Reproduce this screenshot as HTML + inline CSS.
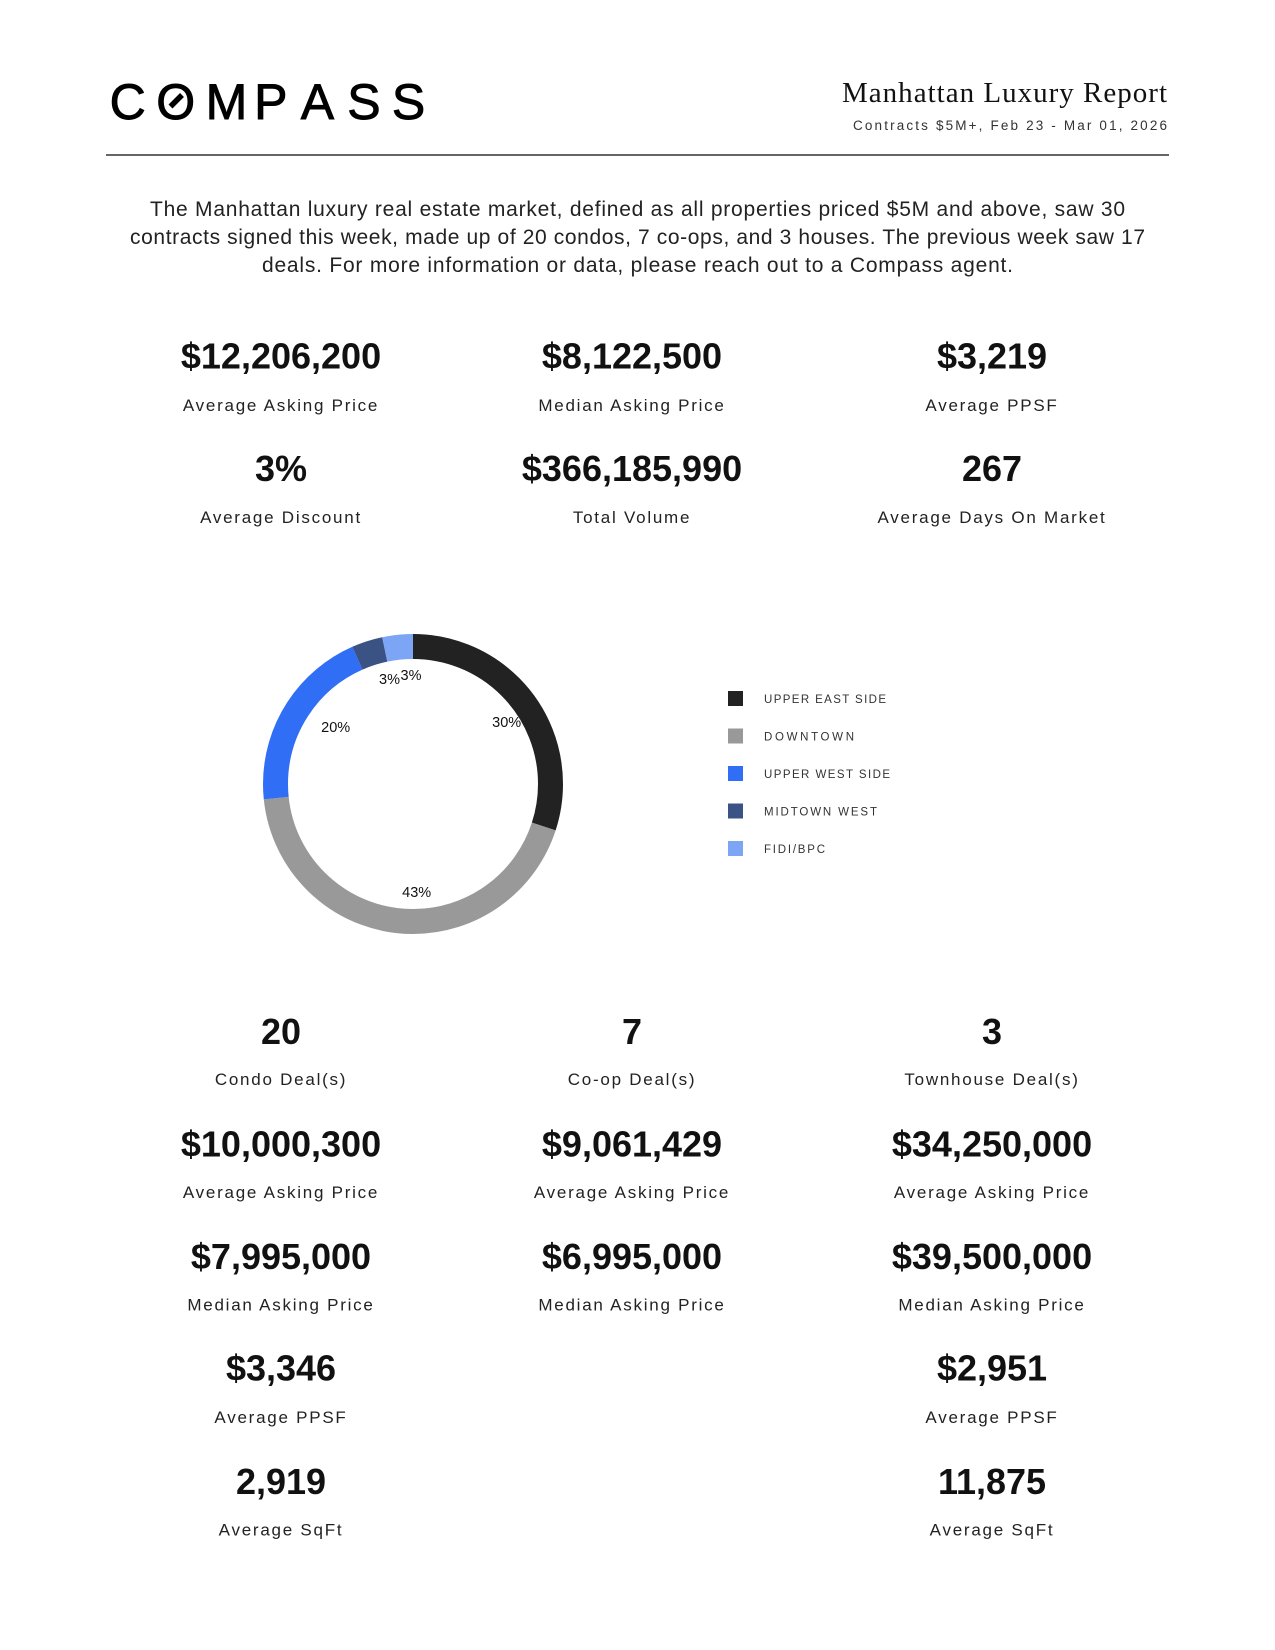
<!DOCTYPE html>
<html>
<head>
<meta charset="utf-8">
<style>
  html, body { margin:0; padding:0; background:#ffffff; }
  body { width:1275px; height:1650px; overflow:hidden; }
  svg { display:block; }
  .num { font-family:"Liberation Sans", sans-serif; font-weight:bold; font-size:36px; fill:#111; text-anchor:middle; }
  .lbl { font-family:"Liberation Sans", sans-serif; font-size:17px; fill:#222; text-anchor:middle; letter-spacing:1.75px; }
  .intro { font-family:"Liberation Sans", sans-serif; font-size:21px; fill:#222; text-anchor:middle; }
  .leg { font-family:"Liberation Sans", sans-serif; font-size:11.5px; fill:#333; }
  .pct { font-family:"Liberation Sans", sans-serif; font-size:14.5px; fill:#111; text-anchor:middle; }
</style>
</head>
<body>
<svg width="1275" height="1650" viewBox="0 0 1275 1650" xmlns="http://www.w3.org/2000/svg">
  <rect x="0" y="0" width="1275" height="1650" fill="#ffffff"/>

  <!-- Logo -->
  <text x="109.6 156.3 205.6 254.1 300.8 347.2 391.9" y="119" font-family="Liberation Sans, sans-serif" font-size="50" fill="#000" stroke="#000" stroke-width="0.9">COMPASS</text>
  <line x1="170.5" y1="106.5" x2="182" y2="95" stroke="#000" stroke-width="5.5"/>

  <!-- Title -->
  <text x="842" y="102" font-family="Liberation Serif, serif" font-size="29" fill="#111" textLength="325" lengthAdjust="spacing">Manhattan Luxury Report</text>
  <text x="853" y="130" font-family="Liberation Sans, sans-serif" font-size="13.5" fill="#333" textLength="314" lengthAdjust="spacing">Contracts $5M+, Feb 23 - Mar 01, 2026</text>

  <line x1="106" y1="155" x2="1169" y2="155" stroke="#333" stroke-width="1.5"/>

  <!-- Intro -->
  <text class="intro" x="637.5" y="216" textLength="975" lengthAdjust="spacing">The Manhattan luxury real estate market, defined as all properties priced $5M and above, saw 30</text>
  <text class="intro" x="637.5" y="244" textLength="1015" lengthAdjust="spacing">contracts signed this week, made up of 20 condos, 7 co-ops, and 3 houses. The previous week saw 17</text>
  <text class="intro" x="637.5" y="272" textLength="751" lengthAdjust="spacing">deals. For more information or data, please reach out to a Compass agent.</text>

  <!-- Top stats row 1 -->
  <text class="num" x="281" y="368.5">$12,206,200</text>
  <text class="lbl" x="281" y="411">Average Asking Price</text>
  <text class="num" x="632" y="368.5">$8,122,500</text>
  <text class="lbl" x="632" y="411">Median Asking Price</text>
  <text class="num" x="992" y="368.5">$3,219</text>
  <text class="lbl" x="992" y="411">Average PPSF</text>

  <!-- Top stats row 2 -->
  <text class="num" x="281" y="481">3%</text>
  <text class="lbl" x="281" y="523">Average Discount</text>
  <text class="num" x="632" y="481">$366,185,990</text>
  <text class="lbl" x="632" y="523">Total Volume</text>
  <text class="num" x="992" y="481">267</text>
  <text class="lbl" x="992" y="523">Average Days On Market</text>

  <!-- Donut -->
  <g transform="rotate(-90 413 784)" fill="none" stroke-width="25">
    <circle cx="413" cy="784" r="137.5" stroke="#222222" stroke-dasharray="259.18 863.94" stroke-dashoffset="0"/>
    <circle cx="413" cy="784" r="137.5" stroke="#999999" stroke-dasharray="374.37 863.94" stroke-dashoffset="-259.18"/>
    <circle cx="413" cy="784" r="137.5" stroke="#2F6EF5" stroke-dasharray="172.79 863.94" stroke-dashoffset="-633.55"/>
    <circle cx="413" cy="784" r="137.5" stroke="#3B5285" stroke-dasharray="28.80 863.94" stroke-dashoffset="-806.34"/>
    <circle cx="413" cy="784" r="137.5" stroke="#7DA5F5" stroke-dasharray="28.80 863.94" stroke-dashoffset="-835.14"/>
  </g>
  <text class="pct" x="506.7" y="727">30%</text>
  <text class="pct" x="416.7" y="897">43%</text>
  <text class="pct" x="335.7" y="732">20%</text>
  <text class="pct" x="389.5" y="684">3%</text>
  <text class="pct" x="411" y="680">3%</text>

  <!-- Legend -->
  <rect x="728" y="691" width="15" height="15" fill="#222222"/>
  <text class="leg" x="764" y="703" textLength="122" lengthAdjust="spacing">UPPER EAST SIDE</text>
  <rect x="728" y="728.5" width="15" height="15" fill="#999999"/>
  <text class="leg" x="764" y="740.5" textLength="90" lengthAdjust="spacing">DOWNTOWN</text>
  <rect x="728" y="766" width="15" height="15" fill="#2F6EF5"/>
  <text class="leg" x="764" y="778" textLength="126" lengthAdjust="spacing">UPPER WEST SIDE</text>
  <rect x="728" y="803.5" width="15" height="15" fill="#3B5285"/>
  <text class="leg" x="764" y="815.5" textLength="113" lengthAdjust="spacing">MIDTOWN WEST</text>
  <rect x="728" y="841" width="15" height="15" fill="#7DA5F5"/>
  <text class="leg" x="764" y="853" textLength="61" lengthAdjust="spacing">FIDI/BPC</text>

  <!-- Bottom: Condo -->
  <text class="num" x="281" y="1044">20</text>
  <text class="lbl" x="281" y="1085">Condo Deal(s)</text>
  <text class="num" x="281" y="1156.5">$10,000,300</text>
  <text class="lbl" x="281" y="1198">Average Asking Price</text>
  <text class="num" x="281" y="1269">$7,995,000</text>
  <text class="lbl" x="281" y="1310.5">Median Asking Price</text>
  <text class="num" x="281" y="1380.5">$3,346</text>
  <text class="lbl" x="281" y="1423">Average PPSF</text>
  <text class="num" x="281" y="1494">2,919</text>
  <text class="lbl" x="281" y="1535.5">Average SqFt</text>

  <!-- Bottom: Co-op -->
  <text class="num" x="632" y="1044">7</text>
  <text class="lbl" x="632" y="1085">Co-op Deal(s)</text>
  <text class="num" x="632" y="1156.5">$9,061,429</text>
  <text class="lbl" x="632" y="1198">Average Asking Price</text>
  <text class="num" x="632" y="1269">$6,995,000</text>
  <text class="lbl" x="632" y="1310.5">Median Asking Price</text>

  <!-- Bottom: Townhouse -->
  <text class="num" x="992" y="1044">3</text>
  <text class="lbl" x="992" y="1085">Townhouse Deal(s)</text>
  <text class="num" x="992" y="1156.5">$34,250,000</text>
  <text class="lbl" x="992" y="1198">Average Asking Price</text>
  <text class="num" x="992" y="1269">$39,500,000</text>
  <text class="lbl" x="992" y="1310.5">Median Asking Price</text>
  <text class="num" x="992" y="1380.5">$2,951</text>
  <text class="lbl" x="992" y="1423">Average PPSF</text>
  <text class="num" x="992" y="1494">11,875</text>
  <text class="lbl" x="992" y="1535.5">Average SqFt</text>
</svg>
</body>
</html>
